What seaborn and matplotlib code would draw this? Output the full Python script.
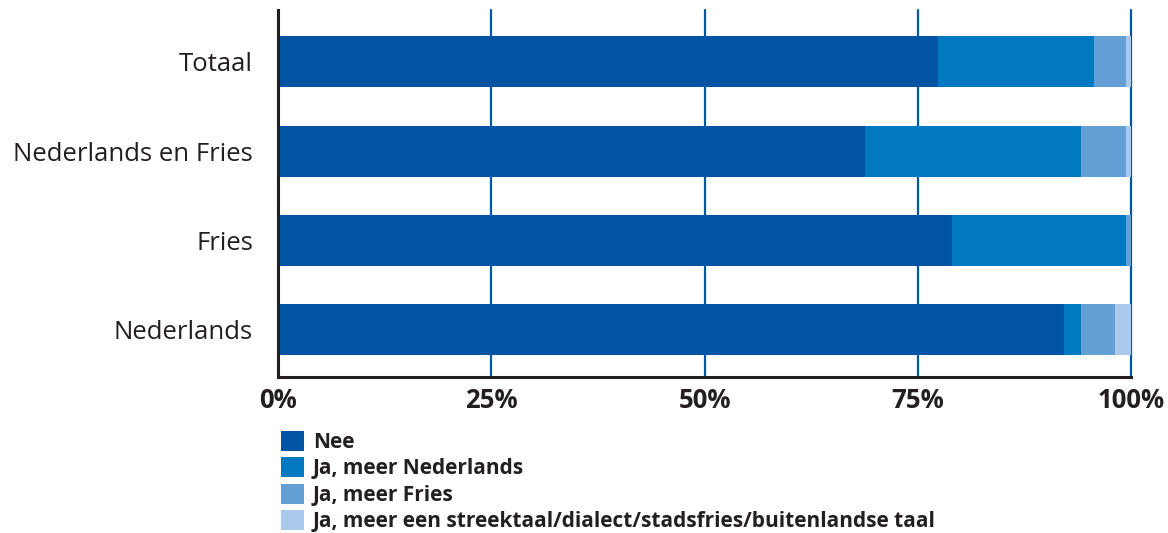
import matplotlib
matplotlib.use("Agg")
import matplotlib.pyplot as plt
import seaborn as sns
import pandas as pd
import numpy as np
from matplotlib.patches import Patch

# Categories (top to bottom) and share per answer, in percent
categories = ["Totaal", "Nederlands en Fries", "Fries", "Nederlands"]
nee = [77.4, 68.8, 79.0, 92.1]
meer_nederlands = [18.3, 25.3, 20.4, 2.0]
meer_fries = [3.7, 5.3, 0.6, 4.0]
meer_streektaal = [0.6, 0.6, 0.0, 1.9]

series_labels = [
    "Nee",
    "Ja, meer Nederlands",
    "Ja, meer Fries",
    "Ja, meer een streektaal/dialect/stadsfries/buitenlandse taal",
]
tick_values = [0, 25, 50, 75, 100]
tick_labels = ["0%", "25%", "50%", "75%", "100%"]

colors = ["#0054a2", "#0079c1", "#64a0d6", "#abc9ea"]
grid_blue = "#0057a6"
ink = "#231f20"

sns.set_theme(style="white")
plt.rcParams["font.family"] = ["Open Sans", "DejaVu Sans"]

W, H = 1168, 533
fig = plt.figure(figsize=(W / 100, H / 100), dpi=100)
ax = fig.add_axes([278 / W, 1 - 377 / H, 853 / W, 367 / H])

# Stacked bars: draw cumulative totals from the outermost layer inwards
series = [nee, meer_nederlands, meer_fries, meer_streektaal]
cum = np.cumsum(np.array(series), axis=0)
for i in range(len(series) - 1, -1, -1):
    df = pd.DataFrame({"categorie": categories, "aandeel": cum[i]})
    sns.barplot(
        data=df, x="aandeel", y="categorie", order=categories, orient="h",
        color=colors[i], saturation=1, width=0.57, linewidth=0,
        errorbar=None, ax=ax, zorder=2,
    )

# Vertical reference lines behind the bars
for v in tick_values[1:]:
    ax.axvline(v, color=grid_blue, lw=1.6, zorder=1, clip_on=False)

ax.set_xlim(0, 100)
ax.set_ylim(3.53, -0.58)
ax.set_xticks(tick_values)
ax.set_xticklabels(tick_labels, fontsize=18.5, fontweight="bold", color=ink)
ax.tick_params(axis="x", length=0, pad=7)
ax.tick_params(axis="y", length=0, pad=18, labelsize=18.5, labelcolor=ink)
ax.set_xlabel("")
ax.set_ylabel("")

for side in ["top", "right"]:
    ax.spines[side].set_visible(False)
for side in ["left", "bottom"]:
    ax.spines[side].set_color(ink)
    ax.spines[side].set_linewidth(2.2)
    ax.spines[side].set_zorder(3)

handles = [Patch(facecolor=c, edgecolor="none") for c in colors]
fig.legend(
    handles, series_labels, loc="upper left",
    bbox_to_anchor=(281 / W, 1 - 431 / H), frameon=False,
    prop={"weight": "bold", "size": 15}, labelcolor=ink,
    handlelength=1.1, handleheight=1.1, handletextpad=0.43,
    labelspacing=0.2, borderaxespad=0, borderpad=0,
)

fig.savefig("out.png", dpi=100, facecolor="white")
